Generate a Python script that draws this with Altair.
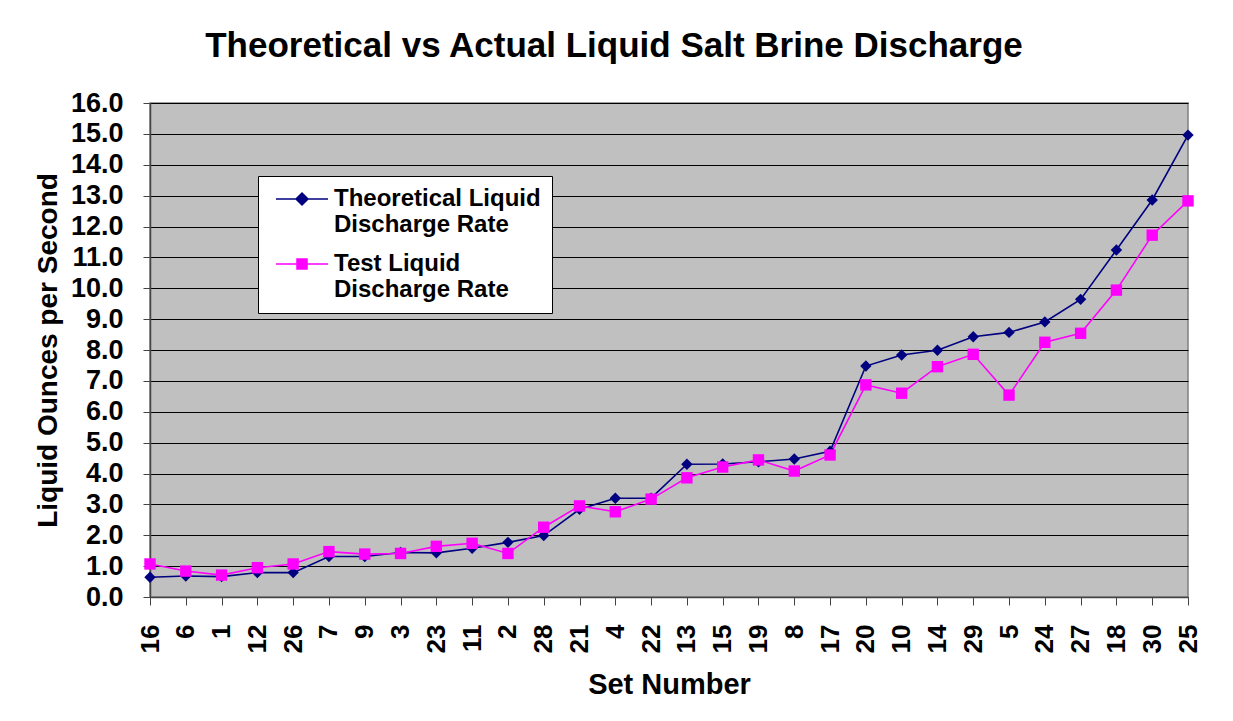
import altair as alt
import pandas as pd

sets = ["16", "6", "1", "12", "26", "7", "9", "3", "23", "11", "2", "28", "21", "4", "22",
        "13", "15", "19", "8", "17", "20", "10", "14", "29", "5", "24", "27", "18", "30", "25"]
theoretical = [0.64, 0.68, 0.66, 0.79, 0.79, 1.31, 1.31, 1.44, 1.43, 1.58, 1.77, 1.99, 2.84, 3.20, 3.20,
               4.30, 4.31, 4.38, 4.47, 4.72, 7.48, 7.84, 7.99, 8.43, 8.57, 8.91, 9.64, 11.24, 12.86, 14.96]
test = [1.07, 0.84, 0.71, 0.95, 1.07, 1.47, 1.39, 1.41, 1.64, 1.74, 1.41, 2.26, 2.95, 2.76, 3.17,
        3.86, 4.21, 4.44, 4.08, 4.60, 6.87, 6.60, 7.46, 7.86, 6.54, 8.25, 8.54, 9.94, 11.72, 12.83]
series_names = ["Theoretical Liquid|Discharge Rate", "Test Liquid|Discharge Rate"]
series_colors = ["#000080", "#FF00FF"]
y_ticks = list(range(0, 17))

rows = []
for s, v in zip(sets, theoretical):
    rows.append({"set": s, "series": series_names[0], "value": v})
for s, v in zip(sets, test):
    rows.append({"set": s, "series": series_names[1], "value": v})
df = pd.DataFrame(rows)

FONT = "Liberation Sans"

x_enc = alt.X("set:N", sort=sets, title="Set Number",
              scale=alt.Scale(type="point", padding=0),
              axis=alt.Axis(labelAngle=270, labelFontSize=26, labelFont=FONT, labelFontWeight="bold",
                            labelColor="black", labelPadding=19, tickSize=8, tickColor="#444",
                            domainColor="#444", domainWidth=1.5, grid=False,
                            titleFontSize=29, titleFont=FONT, titleFontWeight="bold",
                            titleColor="black", titlePadding=18))
y_enc = alt.Y("value:Q", title="Liquid Ounces per Second",
              scale=alt.Scale(domain=[0, 16], nice=False),
              axis=alt.Axis(values=y_ticks, format=".1f", labelFontSize=27, labelFont=FONT,
                            labelFontWeight="bold", labelColor="black", labelPadding=20,
                            tickSize=7, tickColor="#444", domainColor="#444", domainWidth=1.5,
                            gridColor="black", gridWidth=1, gridOpacity=1,
                            titleFontSize=28, titleFont=FONT, titleFontWeight="bold",
                            titleColor="black", titlePadding=8))

color_scale = alt.Scale(domain=series_names, range=series_colors)

# legend symbols: line segment with marker (unit = 10px for symbolSize 400)
diamond_path = "M-0.5,0L4.7,0M2.1,-0.6L2.7,0L2.1,0.6L1.5,0Z"
square_path = "M-0.5,0L4.7,0M1.6,-0.5L2.6,-0.5L2.6,0.5L1.6,0.5Z"

legend = alt.Legend(
    title=None, orient="none", legendX=108, legendY=73,
    fillColor="white", strokeColor="black", padding=11,
    labelFont=FONT, labelFontSize=24, labelFontWeight="bold", labelColor="black",
    labelLimit=0, labelOffset=41, rowPadding=15, symbolSize=400,
    symbolStrokeWidth=1.5, symbolOpacity=1,
    labelExpr="split(datum.label, '|')",
)

lines = alt.Chart(df).mark_line(strokeWidth=1.6).encode(
    x=x_enc, y=y_enc,
    color=alt.Color("series:N", scale=color_scale, legend=None),
)

points = alt.Chart(df).mark_point(filled=True, opacity=1).encode(
    x=x_enc, y=y_enc,
    color=alt.Color("series:N", scale=color_scale, legend=None),
    shape=alt.Shape("series:N", scale=alt.Scale(domain=series_names, range=["diamond", "square"]), legend=None),
    size=alt.value(130),
)

legend_layer = alt.Chart(df).transform_filter("false").mark_point(filled=True, opacity=1).encode(
    x=x_enc, y=y_enc,
    color=alt.Color("series:N", scale=color_scale, legend=legend),
    shape=alt.Shape("series:N", scale=alt.Scale(domain=series_names, range=[diamond_path, square_path]),
                    legend=legend),
    stroke=alt.Stroke("series:N", scale=color_scale, legend=legend),
)

chart = alt.layer(lines, points, legend_layer).resolve_scale(
    color="independent", shape="independent", stroke="independent"
).resolve_legend(color="independent", shape="independent", stroke="independent").properties(
    width=1038, height=494,
    autosize=alt.AutoSizeParams(type="none"),
    padding={"left": 142, "top": 95, "right": 37, "bottom": 118},
    title=alt.TitleParams("Theoretical vs Actual Liquid Salt Brine Discharge",
                          font=FONT, fontSize=35, fontWeight="bold", color="black",
                          anchor="middle", frame="group", dx=-55, offset=25),
).configure(
    background="white",
    view=alt.ViewConfig(fill="#C0C0C0", stroke="#808080", strokeWidth=1.5),
)

chart.save("out.html", embed_options={"renderer": "svg", "actions": False})
